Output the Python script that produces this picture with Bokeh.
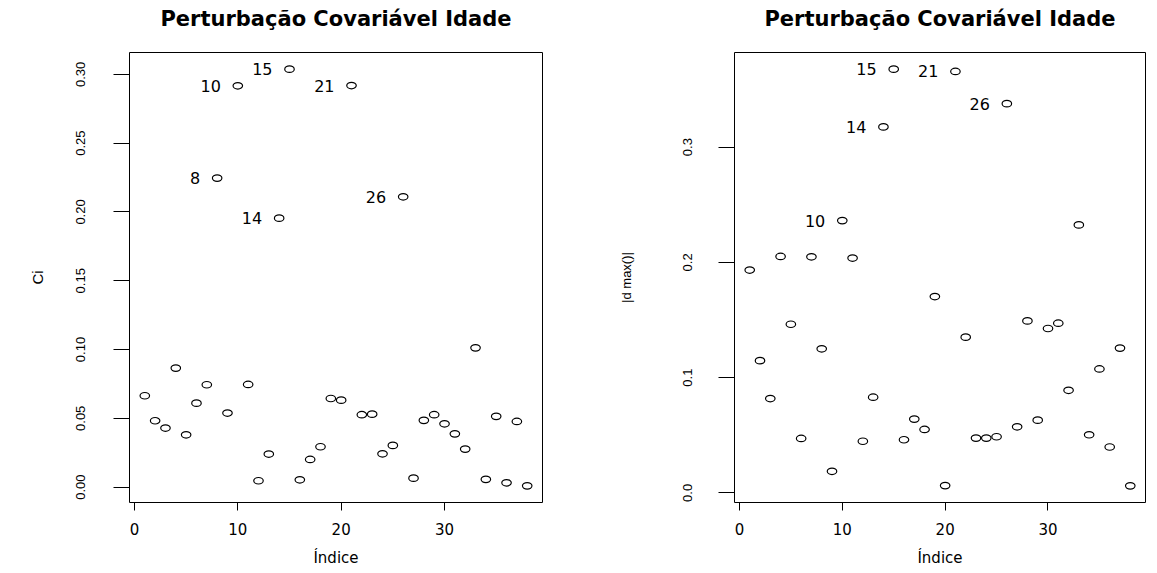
from bokeh.plotting import figure
from bokeh.layouts import row
from bokeh.models import Range1d, FixedTicker, ColumnDataSource, LinearAxis
from bokeh.core.properties import value
from bokeh.embed import file_html
from bokeh.resources import INLINE

indice = list(range(1, 39))

ci = [0.0664, 0.0482, 0.0429, 0.0865, 0.0380, 0.0610, 0.0744, 0.2246, 0.0538, 0.2917,
      0.0746, 0.0046, 0.0240, 0.1955, 0.3038, 0.0053, 0.0201, 0.0293, 0.0644, 0.0632,
      0.2919, 0.0526, 0.0530, 0.0242, 0.0303, 0.2110, 0.0065, 0.0485, 0.0526, 0.0460,
      0.0387, 0.0276, 0.1012, 0.0056, 0.0514, 0.0031, 0.0477, 0.0009]

dmax = [0.1933, 0.1147, 0.0818, 0.2051, 0.1463, 0.0472, 0.2048, 0.1250, 0.0187, 0.2362,
        0.2037, 0.0448, 0.0830, 0.3175, 0.3676, 0.0461, 0.0640, 0.0550, 0.1703, 0.0063,
        0.3656, 0.1351, 0.0475, 0.0475, 0.0487, 0.3377, 0.0573, 0.1492, 0.0631, 0.1426,
        0.1472, 0.0890, 0.2325, 0.0504, 0.1075, 0.0398, 0.1256, 0.0061]

ci_labeled = [8, 10, 14, 15, 21, 26]
dmax_labeled = [10, 14, 15, 21, 26]

x_ticks = [0, 10, 20, 30]
ci_ticks = [0.00, 0.05, 0.10, 0.15, 0.20, 0.25, 0.30]
ci_tick_labels = ["0.00", "0.05", "0.10", "0.15", "0.20", "0.25", "0.30"]
dmax_ticks = [0.0, 0.1, 0.2, 0.3]
dmax_tick_labels = ["0.0", "0.1", "0.2", "0.3"]

title_text = "Perturbação Covariável Idade"
x_label = "Índice"


def r_range(vals):
    lo, hi = min(vals), max(vals)
    ext = 0.04 * (hi - lo)
    return lo - ext, hi + ext


def panel(vals, labeled, ylab, yticks, ytick_labels, width, bl, br,
          ytick_standoff, ylab_standoff, ylab_size):
    xr = r_range(indice)
    yr = r_range(vals)
    p = figure(width=width, height=572, x_range=Range1d(*xr), y_range=Range1d(*yr),
               output_backend="svg", toolbar_location=None, title=None,
               min_border_left=bl, min_border_right=br,
               min_border_top=52, min_border_bottom=70)
    p.background_fill_color = "white"
    p.border_fill_color = "white"
    p.xgrid.visible = False
    p.ygrid.visible = False
    p.outline_line_color = "black"
    p.outline_line_alpha = 1.0
    p.outline_line_width = 1

    xa = p.below[0]
    xa.ticker = FixedTicker(ticks=x_ticks)
    xa.axis_line_color = None
    xa.major_tick_out = 8
    xa.major_tick_in = 0
    xa.minor_tick_line_color = None
    xa.major_tick_line_color = "black"
    xa.major_label_text_font = "DejaVu Sans"
    xa.major_label_text_font_size = "15px"
    xa.major_label_text_color = "black"
    xa.major_label_standoff = 12
    xa.axis_label = x_label
    xa.axis_label_text_font = "DejaVu Sans"
    xa.axis_label_text_font_size = "15px"
    xa.axis_label_text_font_style = "normal"
    xa.axis_label_text_color = "black"
    xa.axis_label_standoff = 11

    ya = p.left[0]
    ya.ticker = FixedTicker(ticks=yticks)
    ya.major_label_overrides = {t: l for t, l in zip(yticks, ytick_labels)}
    ya.axis_line_color = None
    ya.major_tick_out = 16
    ya.major_tick_in = 0
    ya.minor_tick_line_color = None
    ya.major_tick_line_color = "black"
    ya.major_label_orientation = "vertical"
    ya.major_label_text_font = "Liberation Sans"
    ya.major_label_text_font_size = "13px"
    ya.major_label_text_color = "black"
    ya.major_label_standoff = ytick_standoff
    ya.axis_label = ylab
    ya.axis_label_text_font = "Liberation Sans"
    ya.axis_label_text_font_size = ylab_size
    ya.axis_label_text_font_style = "normal"
    ya.axis_label_text_color = "black"
    ya.axis_label_standoff = ylab_standoff

    # main title drawn as the label of a tick-less axis above the box
    ta = LinearAxis(ticker=FixedTicker(ticks=[]))
    ta.axis_line_color = None
    ta.major_tick_line_color = None
    ta.minor_tick_line_color = None
    ta.major_label_text_font_size = "0px"
    ta.axis_label = title_text
    ta.axis_label_text_font = "DejaVu Sans"
    ta.axis_label_text_font_size = "21px"
    ta.axis_label_text_font_style = "bold"
    ta.axis_label_text_color = "black"
    ta.axis_label_standoff = 22
    p.add_layout(ta, "above")

    src = ColumnDataSource(dict(x=indice, y=vals))
    p.ellipse(x="x", y="y", width=9.5, height=6.5, width_units="screen",
              height_units="screen", source=src, fill_color=None,
              line_color="black", line_width=1.2)

    lx = [i for i in labeled]
    ly = [vals[i - 1] for i in labeled]
    lt = [str(i) for i in labeled]
    lsrc = ColumnDataSource(dict(x=lx, y=ly, t=lt))
    p.text(x="x", y="y", text="t", source=lsrc, text_align="right",
           text_baseline="middle", x_offset=-17,
           text_font=value("DejaVu Sans"), text_font_size="16px", text_color="black")
    return p


p1 = panel(ci, ci_labeled, "Ci", ci_ticks, ci_tick_labels, 578, 129, 36, 28, 28, "15px")
p2 = panel(dmax, dmax_labeled, "|d max()|", dmax_ticks, dmax_tick_labels, 578, 156, 11, 26, 47, "13px")

layout = row(p1, p2)
open("out.html", "w").write(file_html(layout, INLINE))
